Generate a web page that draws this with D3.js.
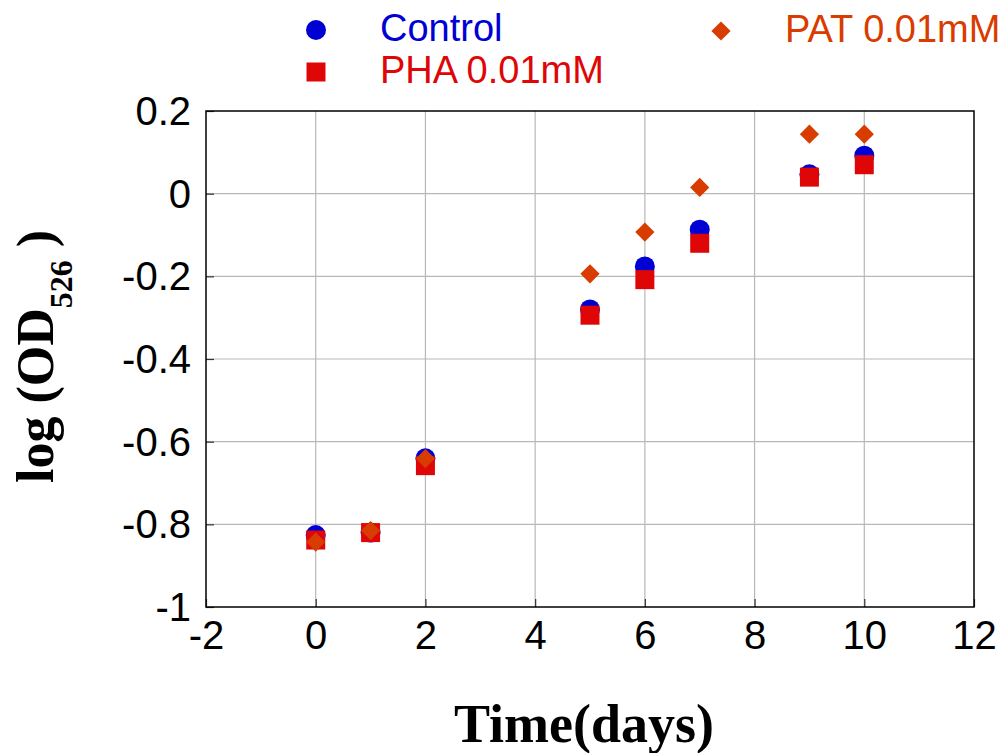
<!DOCTYPE html>
<html>
<head>
<meta charset="utf-8">
<script src="https://cdn.jsdelivr.net/npm/d3@7"></script>
<style>
  html, body { margin: 0; padding: 0; background: #fff; }
  svg { display: block; }
</style>
</head>
<body>
<svg id="chart" width="1007" height="753"></svg>
<script>
// Growth measured as log(OD526) over time, three treatments
const days = [0, 1, 2, 5, 6, 7, 9, 10];
const control = [-0.826, -0.82, -0.64, -0.28, -0.176, -0.087, 0.047, 0.092];
const pha = [-0.838, -0.82, -0.658, -0.294, -0.208, -0.12, 0.04, 0.07];
const pat = [-0.843, -0.815, -0.641, -0.194, -0.093, 0.015, 0.144, 0.144];
const xTicks = [-2, 0, 2, 4, 6, 8, 10, 12];
const yTicks = [-1, -0.8, -0.6, -0.4, -0.2, 0, 0.2];

const svg = d3.select("#chart");
const plotL = 206, plotR = 974, plotT = 111, plotB = 607;

const x = d3.scaleLinear().domain([-2, 12]).range([plotL, plotR]);
const y = d3.scaleLinear().domain([-1, 0.2]).range([plotB, plotT]);

const sans = "'Liberation Sans', Arial, sans-serif";
const serif = "'Liberation Serif', 'Times New Roman', serif";

// grid
const grid = svg.append("g");
grid.selectAll("line.v").data(xTicks.slice(1, -1)).join("line")
  .attr("x1", d => x(d)).attr("x2", d => x(d))
  .attr("y1", plotT).attr("y2", plotB)
  .attr("stroke", "#b8b8b8").attr("stroke-width", 1.2);
grid.selectAll("line.h").data(yTicks.slice(1, -1)).join("line")
  .attr("x1", plotL).attr("x2", plotR)
  .attr("y1", d => y(d)).attr("y2", d => y(d))
  .attr("stroke", "#b8b8b8").attr("stroke-width", 1.2);

// axes with inward ticks; labels use a plain hyphen for negatives
const xAxis = svg.append("g").attr("transform", `translate(0,${plotB})`)
  .call(d3.axisBottom(x).tickValues(xTicks).tickSizeInner(-8).tickSizeOuter(0)
    .tickFormat(d => String(d)));
const yAxis = svg.append("g").attr("transform", `translate(${plotL},0)`)
  .call(d3.axisLeft(y).tickValues(yTicks).tickSizeInner(-8).tickSizeOuter(0)
    .tickFormat(d => d === 0 ? "0" : String(+d.toFixed(1))));
[xAxis, yAxis].forEach(a => {
  a.select(".domain").remove();
  a.selectAll(".tick line").attr("stroke", "#333").attr("stroke-width", 1.2);
  a.selectAll("text").attr("font-family", sans).attr("font-size", 40).attr("fill", "#000");
});
xAxis.selectAll("text").attr("y", 14).attr("dy", "0.71em");
yAxis.selectAll("text").attr("x", -15).attr("dy", "0.34em");

// frame
svg.append("rect").attr("x", plotL).attr("y", plotT)
  .attr("width", plotR - plotL).attr("height", plotB - plotT)
  .attr("fill", "none").attr("stroke", "#000").attr("stroke-width", 1.5);

// series markers
const blue = "#0000d4", red = "#de0606", orange = "#d83c00";
const sq = d3.symbol().type(d3.symbolSquare).size(361)();
const dia = d3.symbol().type(d3.symbolSquare).size(185)();

svg.append("g").selectAll("circle").data(days).join("circle")
  .attr("cx", d => x(d)).attr("cy", (d, i) => y(control[i]))
  .attr("r", 10).attr("fill", blue);
svg.append("g").selectAll("path").data(days).join("path")
  .attr("d", sq)
  .attr("transform", (d, i) => `translate(${x(d)},${y(pha[i])})`)
  .attr("fill", red);
svg.append("g").selectAll("path").data(days).join("path")
  .attr("d", dia)
  .attr("transform", (d, i) => `translate(${x(d)},${y(pat[i])}) rotate(45)`)
  .attr("fill", orange);

// legend
const legend = [
  { label: "Control", color: blue, shape: "circle", mx: 316, my: 30 },
  { label: "PHA 0.01mM", color: red, shape: "square", mx: 316, my: 72 },
  { label: "PAT 0.01mM", color: orange, shape: "diamond", mx: 721, my: 31 }
];
const lg = svg.append("g");
legend.forEach(l => {
  if (l.shape === "circle") {
    lg.append("circle").attr("cx", l.mx).attr("cy", l.my).attr("r", 10).attr("fill", l.color);
  } else if (l.shape === "square") {
    lg.append("path").attr("d", sq).attr("transform", `translate(${l.mx},${l.my})`).attr("fill", l.color);
  } else {
    lg.append("path").attr("d", dia).attr("transform", `translate(${l.mx},${l.my}) rotate(45)`).attr("fill", l.color);
  }
  lg.append("text").attr("x", l.mx + 64).attr("y", l.my + 11)
    .attr("font-family", sans).attr("font-size", 38).attr("fill", l.color)
    .text(l.label);
});

// axis titles
svg.append("text").attr("x", 584).attr("y", 742)
  .attr("text-anchor", "middle").attr("font-family", serif)
  .attr("font-weight", "bold").attr("font-size", 54).attr("fill", "#000")
  .text("Time(days)");

const yt = svg.append("text")
  .attr("transform", "translate(53,483) rotate(-90)")
  .attr("font-family", serif).attr("font-weight", "bold")
  .attr("font-size", 52).attr("fill", "#000");
yt.append("tspan").text("log (OD");
yt.append("tspan").attr("font-size", 32).attr("dy", 19).text("526");
yt.append("tspan").attr("dy", -19).text(" )");
</script>
</body>
</html>
